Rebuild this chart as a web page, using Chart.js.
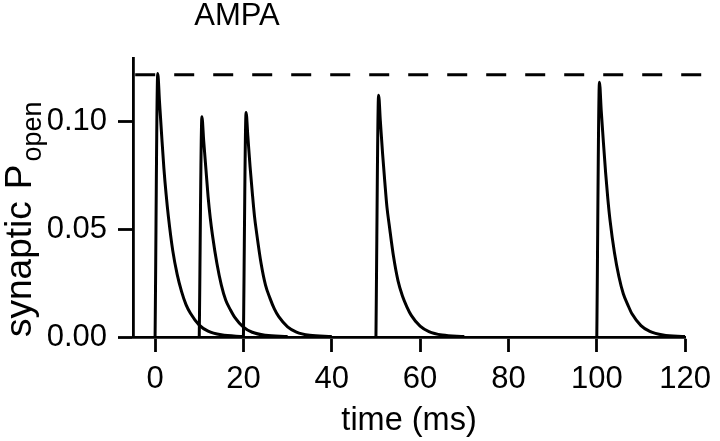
<!DOCTYPE html>
<html>
<head>
<meta charset="utf-8">
<script src="https://cdn.jsdelivr.net/npm/chart.js@4.4.1/dist/chart.umd.min.js"></script>
<style>
    html, body { margin: 0; padding: 0; background: #fff; }
    #wrap { width: 720px; height: 441px; position: relative; }
</style>
</head>
<body>
<div id="wrap"><canvas id="chart"></canvas></div>
<script>
// stimulus onset times (ms) and sample times relative to each onset
const stimTimes = [0, 10, 20, 50, 100];
const pulseOffsets = [0, 0.6, 1, 1.5, 2, 2.5, 3, 4, 5, 6, 7, 8, 10, 12, 15, 20];

// synaptic P_open, one array per stimulus
const pulse0 = [0, 0.122, 0.109, 0.093, 0.078, 0.066, 0.056, 0.040, 0.029, 0.021, 0.015, 0.011, 0.0055, 0.0027, 0.001, 0.0002];
const pulse10 = [0, 0.102, 0.091, 0.078, 0.065, 0.055, 0.047, 0.034, 0.024, 0.017, 0.0128, 0.0092, 0.0046, 0.0022, 0.0008, 0.0002];
const pulse20 = [0, 0.104, 0.093, 0.079, 0.067, 0.056, 0.048, 0.034, 0.024, 0.018, 0.013, 0.0094, 0.0047, 0.0023, 0.0008, 0.0002];
const pulse50 = [0, 0.112, 0.100, 0.085, 0.072, 0.060, 0.052, 0.037, 0.026, 0.019, 0.014, 0.010, 0.005, 0.0025, 0.0009, 0.0002];
const pulse100 = [0, 0.118, 0.105, 0.090, 0.076, 0.064, 0.054, 0.039, 0.028, 0.020, 0.015, 0.0106, 0.0053, 0.0026, 0.0009, 0.0002];
const pulses = [pulse0, pulse10, pulse20, pulse50, pulse100];

// dashed reference line at the first peak
const refLevel = 0.1214;
const refX = [-4.5, 126];

const xTickValues = [0, 20, 40, 60, 80, 100, 120];
const yTickValues = [0, 0.05, 0.10];

const FONT = '"Liberation Sans", Arial, sans-serif';

const datasets = pulses.map((vals, i) => ({
    data: vals.map((v, k) => ({ x: stimTimes[i] + pulseOffsets[k], y: v })),
    borderColor: '#000',
    borderWidth: 3,
    pointRadius: 0,
    cubicInterpolationMode: 'monotone',
    fill: false
}));

datasets.push({
    data: refX.map(x => ({ x: x, y: refLevel })),
    borderColor: '#000',
    borderWidth: 3,
    borderDash: [20, 19],
    pointRadius: 0,
    clip: false,
    fill: false
});

const textPlugin = {
    id: 'texts',
    afterDraw(chart) {
        const ctx = chart.ctx;
        ctx.save();
        ctx.fillStyle = '#000';
        ctx.font = '31px ' + FONT;
        ctx.textAlign = 'center';
        ctx.textBaseline = 'alphabetic';
        ctx.fillText('AMPA', 237, 25);

        // rotated y title with subscript
        ctx.translate(31, 337);
        ctx.rotate(-Math.PI / 2);
        ctx.textAlign = 'left';
        ctx.font = '37px ' + FONT;
        ctx.fillText('synaptic', 0, 0);
        const w1 = ctx.measureText('synaptic').width;
        ctx.fillText('P', w1 + 12, 0);
        const w = w1 + 12 + ctx.measureText('P').width;
        ctx.font = '27px ' + FONT;
        ctx.fillText('open', w + 3, 10);
        ctx.restore();
    }
};

new Chart(document.getElementById('chart'), {
    type: 'line',
    data: { datasets: datasets },
    options: {
        responsive: true,
        maintainAspectRatio: false,
        animation: false,
        layout: { padding: { top: 58, right: 29, left: 0, bottom: 0 } },
        plugins: {
            legend: { display: false },
            tooltip: { enabled: false }
        },
        scales: {
            x: {
                type: 'linear',
                min: -5,
                max: 120,
                afterBuildTicks: (s) => { s.ticks = xTickValues.map(v => ({ value: v })); },
                afterFit: (s) => { s.height = 104; },
                grid: { display: true, drawOnChartArea: false, drawTicks: true, tickLength: 15, tickWidth: 2.8, tickColor: '#000' },
                border: { display: true, color: '#000', width: 2.8 },
                ticks: { color: '#000', font: { family: FONT, size: 31 }, padding: 9, maxRotation: 0 },
                title: { display: true, text: 'time (ms)', color: '#000', font: { family: FONT, size: 32.5 }, padding: { top: 0, bottom: 0 } }
            },
            y: {
                type: 'linear',
                min: 0,
                max: 0.1292,
                afterBuildTicks: (s) => { s.ticks = yTickValues.map(v => ({ value: v })); },
                afterFit: (s) => { s.width = 133; },
                grid: { display: true, drawOnChartArea: false, drawTicks: true, tickLength: 15, tickWidth: 2.8, tickColor: '#000' },
                border: { display: true, color: '#000', width: 2.8 },
                ticks: { color: '#000', font: { family: FONT, size: 31 }, padding: 11, callback: (v) => v.toFixed(2) }
            }
        }
    },
    plugins: [textPlugin]
});
</script>
</body>
</html>
